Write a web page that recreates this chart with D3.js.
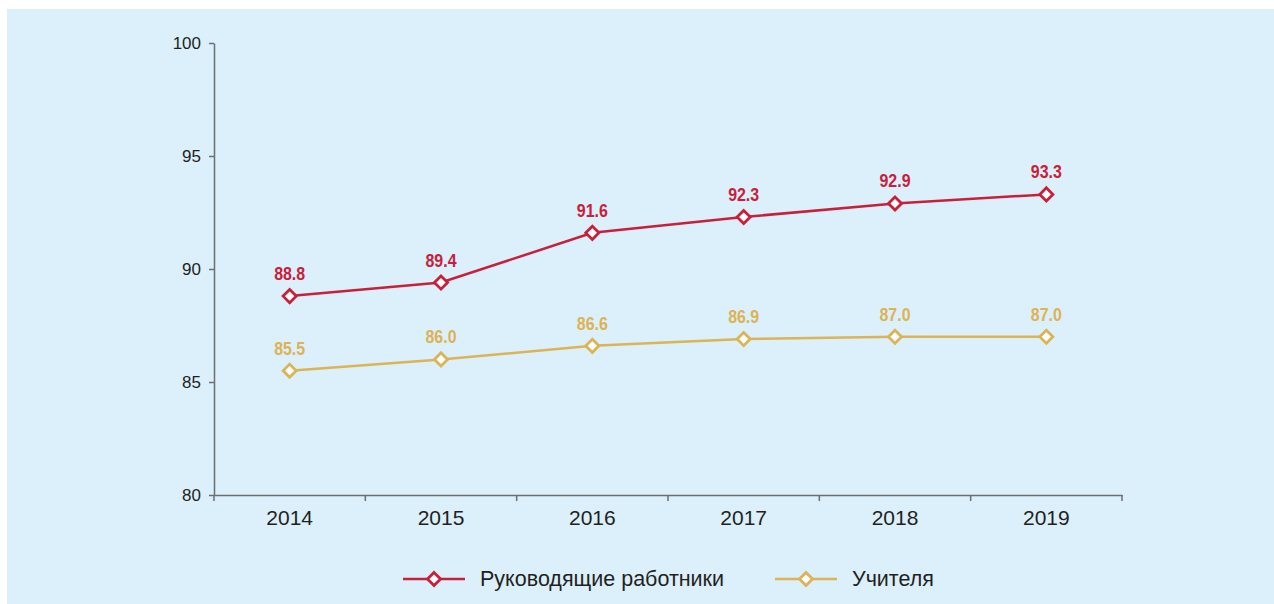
<!DOCTYPE html>
<html>
<head>
<meta charset="utf-8">
<script src="https://cdn.jsdelivr.net/npm/d3@7"></script>
<style>
  html, body { margin: 0; padding: 0; background: #ffffff; }
  svg { display: block; }
</style>
</head>
<body>
<svg id="chart" width="1274" height="604"></svg>
<script>
const years = ["2014", "2015", "2016", "2017", "2018", "2019"];
const leaders = [88.8, 89.4, 91.6, 92.3, 92.9, 93.3];
const teachers = [85.5, 86.0, 86.6, 86.9, 87.0, 87.0];
const seriesNames = ["Руководящие работники", "Учителя"];
const yTicks = [80, 85, 90, 95, 100];

const colors = ["#c8203a", "#dcb355"];
const axisColor = "#6d6e71";

const svg = d3.select("#chart");
svg.append("rect").attr("x", 7).attr("y", 9).attr("width", 1267).attr("height", 595).attr("fill", "#dbf0fb");

const x = d3.scaleBand().domain(years).range([214, 1122]);
const y = d3.scaleLinear().domain([80, 100]).range([495, 43]);

// Y axis
const yAxis = d3.axisLeft(y).tickValues(yTicks).tickSize(5).tickSizeOuter(0).tickPadding(8);
const gy = svg.append("g").attr("transform", "translate(214,0)").call(yAxis);
gy.select(".domain").attr("stroke", axisColor).attr("stroke-width", 1.5);
gy.selectAll(".tick line").attr("stroke", axisColor).attr("stroke-width", 1.5);
gy.selectAll(".tick text").attr("fill", "#231f20").style("font-family", "'Liberation Sans', Arial, sans-serif").style("font-size", "17px");

// X axis
const xAxis = d3.axisBottom(x).tickSize(0).tickSizeOuter(0).tickPadding(15);
const gx = svg.append("g").attr("transform", "translate(0,495)").call(xAxis);
gx.select(".domain").attr("stroke", axisColor).attr("stroke-width", 1.5);
gx.selectAll(".tick text").attr("fill", "#231f20").style("font-family", "'Liberation Sans', Arial, sans-serif").style("font-size", "21px");
// category boundary ticks
const bounds = years.map(d => x(d)).concat([x.range()[1]]);
gx.selectAll(".bound").data(bounds).enter().append("line")
  .attr("x1", d => d).attr("x2", d => d).attr("y1", 0).attr("y2", 6)
  .attr("stroke", axisColor).attr("stroke-width", 1.5);

const cx = d => x(d) + x.bandwidth() / 2;
const diamond = d3.symbol().type(d3.symbolDiamond2).size(110);

[leaders, teachers].forEach((vals, i) => {
  const data = years.map((yr, j) => ({ yr, v: vals[j] }));
  const line = d3.line().x(d => cx(d.yr)).y(d => y(d.v));
  svg.append("path").datum(data).attr("d", line).attr("fill", "none")
    .attr("stroke", colors[i]).attr("stroke-width", 2.5);
  svg.selectAll(".m" + i).data(data).enter().append("path")
    .attr("d", diamond).attr("transform", d => `translate(${cx(d.yr)},${y(d.v)})`)
    .attr("fill", "#ffffff").attr("stroke", colors[i]).attr("stroke-width", 2.8);
  svg.selectAll(".l" + i).data(data).enter().append("text")
    .attr("x", d => cx(d.yr)).attr("y", d => y(d.v) - 16)
    .attr("text-anchor", "middle")
    .attr("fill", colors[i])
    .attr("textLength", 31).attr("lengthAdjust", "spacingAndGlyphs")
    .style("font-family", "'Liberation Sans', Arial, sans-serif")
    .style("font-weight", "bold").style("font-size", "18px")
    .text(d => d.v.toFixed(1));
});

// Legend
const legendItems = [
  { name: seriesNames[0], color: colors[0], x0: 403 },
  { name: seriesNames[1], color: colors[1], x0: 775 }
];
const ly = 579;
legendItems.forEach(it => {
  const g = svg.append("g");
  g.append("line").attr("x1", it.x0).attr("x2", it.x0 + 62).attr("y1", ly).attr("y2", ly)
    .attr("stroke", it.color).attr("stroke-width", 2.5);
  g.append("path").attr("d", diamond).attr("transform", `translate(${it.x0 + 31},${ly})`)
    .attr("fill", "#ffffff").attr("stroke", it.color).attr("stroke-width", 2.8);
  g.append("text").attr("x", it.x0 + 77).attr("y", ly + 7)
    .attr("fill", "#231f20")
    .style("font-family", "'Liberation Sans', Arial, sans-serif").style("font-size", "21.5px")
    .text(it.name);
});
</script>
</body>
</html>
